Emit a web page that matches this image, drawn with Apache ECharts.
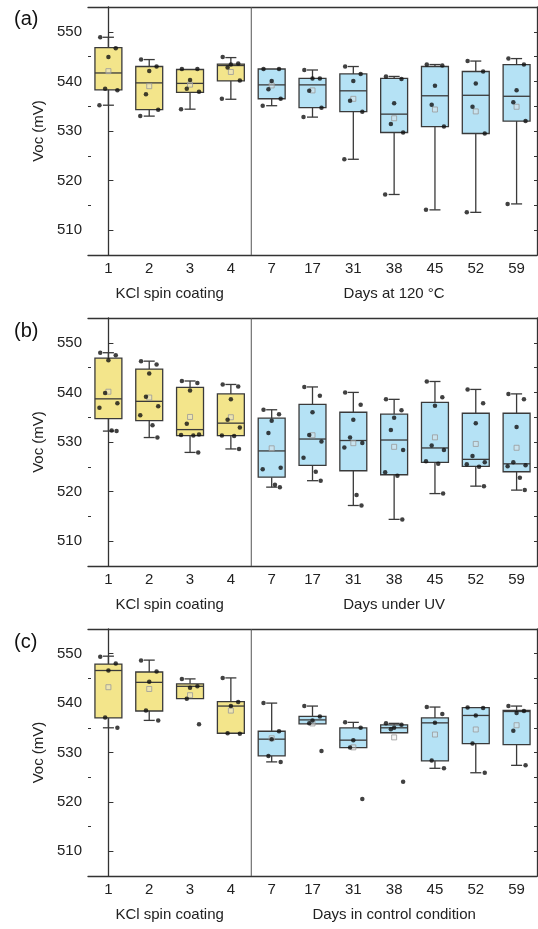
<!DOCTYPE html>
<html><head><meta charset="utf-8">
<script src="https://cdn.jsdelivr.net/npm/echarts@6/dist/echarts.min.js"></script>
<style>html,body{margin:0;padding:0;background:#fff}#c{width:538px;height:929px}</style>
</head><body><div id="c"></div>
<script>
// ---------- data ----------
const kclCats = ['1', '2', '3', '4'];
const dayCats = ['7', '17', '31', '38', '45', '52', '59'];
const categories = kclCats.concat(dayCats);
const yTicks = [510, 520, 530, 540, 550];
const yMinorTicks = [515, 525, 535, 545];
const yMin = 505, yMax = 555;
const panelLabels = ['(a)', '(b)', '(c)'];
const groupTitlesA = ['KCl spin coating', 'Days at 120 \u00B0C'];
const groupTitlesB = ['KCl spin coating', 'Days under UV'];
const groupTitlesC = ['KCl spin coating', 'Days in control condition'];

// box statistics: [lower whisker, Q1, median, Q3, upper whisker]
const boxA = [
  [535.2, 538.3, 541.7, 546.8, 548.9], [533.0, 534.3, 539.7, 543.0, 544.4],
  [534.4, 537.8, 539.6, 542.4, 542.5], [536.4, 540.1, 543.2, 543.5, 544.8],
  [535.1, 536.5, 539.3, 542.5, 542.5], [532.8, 534.7, 539.3, 540.6, 542.3],
  [524.3, 533.9, 538.1, 541.5, 543.0], [517.2, 529.7, 533.4, 540.6, 541.0],
  [514.1, 530.9, 537.1, 543.0, 543.4], [513.6, 529.5, 537.2, 542.0, 544.1],
  [515.3, 532.0, 537.0, 543.4, 544.6]
];
const dotsA = [
  [548.9, 546.7, 544.9, 538.5, 538.2, 535.2], [544.4, 543.0, 542.1, 537.4, 534.3, 533.0],
  [542.5, 542.5, 540.3, 538.5, 537.9, 534.4], [544.9, 543.6, 543.4, 542.8, 540.2, 536.5],
  [542.5, 542.5, 540.1, 538.4, 536.5, 535.1], [542.3, 540.6, 540.6, 538.1, 534.7, 532.8],
  [543.0, 541.5, 540.1, 536.1, 533.9, 524.3], [541.0, 540.5, 535.6, 531.4, 529.7, 517.2],
  [543.4, 543.2, 539.1, 535.3, 530.9, 514.1], [544.1, 542.0, 539.6, 534.9, 529.5, 513.6],
  [544.6, 543.4, 538.2, 535.8, 532.0, 515.3]
];
const boxB = [
  [532.2, 534.7, 538.7, 546.9, 548.0], [530.9, 534.3, 538.2, 544.7, 546.3],
  [527.9, 531.3, 532.5, 541.0, 542.3], [528.6, 531.3, 533.8, 539.7, 541.6],
  [520.9, 522.9, 528.2, 534.8, 536.5], [522.2, 525.3, 530.6, 537.6, 541.1],
  [517.2, 524.2, 530.3, 536.0, 540.0], [514.4, 523.4, 530.4, 535.6, 538.6],
  [519.6, 525.9, 528.8, 538.0, 542.2], [521.1, 525.1, 526.5, 535.8, 540.6],
  [520.3, 524.0, 525.6, 535.8, 539.7]
];
const dotsB = [
  [548.0, 547.5, 546.5, 539.9, 537.8, 536.9, 532.3, 532.2],
  [546.3, 545.6, 543.8, 539.1, 537.2, 535.4, 533.4, 530.9],
  [542.3, 541.9, 540.4, 533.7, 531.5, 531.4, 531.3, 527.9],
  [541.6, 541.2, 538.6, 534.5, 532.9, 531.3, 531.2, 528.6],
  [536.5, 535.6, 534.3, 531.8, 524.8, 524.5, 521.4, 520.9],
  [541.1, 539.3, 536.0, 531.4, 530.1, 526.8, 524.0, 522.2],
  [540.0, 537.5, 534.5, 530.9, 529.8, 528.9, 519.3, 517.2],
  [538.6, 536.4, 534.9, 532.4, 528.4, 523.9, 523.2, 514.4],
  [542.2, 539.0, 537.3, 529.3, 528.4, 526.1, 525.6, 519.6],
  [540.6, 537.8, 533.8, 527.2, 525.9, 525.5, 525.0, 521.1],
  [539.7, 538.6, 533.0, 525.9, 525.3, 525.1, 522.8, 520.3]
];
const boxC = [
  [535.0, 537.0, 546.6, 547.9, 549.5], [536.5, 538.4, 544.2, 546.3, 548.7],
  [540.9, 540.9, 543.4, 543.9, 544.9], [533.9, 533.9, 539.4, 540.3, 545.1],
  [528.1, 529.3, 532.7, 534.3, 540.0], [535.8, 535.8, 536.6, 537.3, 539.4],
  [531.0, 531.0, 532.5, 535.0, 536.1], [534.0, 534.0, 535.0, 535.6, 535.9],
  [526.8, 528.3, 536.0, 537.0, 539.2], [525.9, 531.8, 537.5, 539.1, 539.1],
  [527.4, 531.6, 538.3, 538.5, 539.4]
];
const dotsC = [
  [549.4, 548.0, 546.6, 537.1, 535.0], [548.6, 546.4, 544.3, 538.5, 536.5],
  [544.9, 543.4, 543.1, 540.9, 535.7], [545.1, 540.2, 539.4, 533.9, 533.8],
  [540.0, 534.3, 532.7, 529.3, 528.1], [539.4, 537.3, 536.5, 535.9, 530.3],
  [536.1, 535.0, 532.5, 531.0, 520.6], [535.9, 535.6, 535.0, 534.7, 524.1],
  [539.2, 537.8, 536.0, 528.4, 526.8], [539.1, 539.0, 537.5, 531.8, 525.9],
  [539.4, 538.4, 538.0, 534.4, 527.4]
];

// ---------- style / layout ----------
const FONT = 'Liberation Sans, Arial, sans-serif';
const YELLOW = '#f3e58b';
const BLUE = '#b5e2f5';
const EDGE = '#3a3a3a';
const AXIS = '#333';
const TXT = '#222';
const gridTops = [7, 318, 629];
const gridHeights = [248, 248, 247];
const jitter = [-0.2, 0.18, 0, -0.08, 0.22, -0.22, 0.08, 0.2];

const panels = [
  { box: boxA, dots: dotsA, titles: groupTitlesA },
  { box: boxB, dots: dotsB, titles: groupTitlesB },
  { box: boxC, dots: dotsC, titles: groupTitlesC }
];

function renderBox(params, api) {
  const i = api.value(0);
  const pLow = api.coord([i, api.value(1)]);
  const pQ1 = api.coord([i, api.value(2)]);
  const pMed = api.coord([i, api.value(3)]);
  const pQ3 = api.coord([i, api.value(4)]);
  const pHigh = api.coord([i, api.value(5)]);
  const band = api.size([1, 0])[0];
  const hw = band * 0.33, cw = band * 0.135;
  const x = pMed[0];
  const ls = { stroke: EDGE, lineWidth: 1.3 };
  const ch = [];
  if (pHigh[1] < pQ3[1] - 0.5) {
    ch.push({ type: 'line', shape: { x1: x, y1: pHigh[1], x2: x, y2: pQ3[1] }, style: ls });
    ch.push({ type: 'line', shape: { x1: x - cw, y1: pHigh[1], x2: x + cw, y2: pHigh[1] }, style: ls });
  }
  if (pLow[1] > pQ1[1] + 0.5) {
    ch.push({ type: 'line', shape: { x1: x, y1: pQ1[1], x2: x, y2: pLow[1] }, style: ls });
    ch.push({ type: 'line', shape: { x1: x - cw, y1: pLow[1], x2: x + cw, y2: pLow[1] }, style: ls });
  }
  ch.push({ type: 'rect', shape: { x: x - hw, y: pQ3[1], width: 2 * hw, height: pQ1[1] - pQ3[1] },
            style: { fill: i < kclCats.length ? YELLOW : BLUE, stroke: EDGE, lineWidth: 1.3 } });
  ch.push({ type: 'line', shape: { x1: x - hw, y1: pMed[1], x2: x + hw, y2: pMed[1] }, style: ls });
  return { type: 'group', children: ch };
}

const option = {
  animation: false,
  backgroundColor: '#fff',
  textStyle: { fontFamily: FONT },
  title: panelLabels.map((t, g) => ({
    text: t, left: 14, top: gridTops[g] + (g === 0 ? 2 : 3), padding: 0,
    textStyle: { fontSize: 20, fontWeight: 'normal', color: '#111', fontFamily: FONT }
  })),
  grid: gridTops.map((t, g) => ({ left: 88, width: 449, top: t, height: gridHeights[g] })),
  xAxis: [], yAxis: [], series: []
};

panels.forEach((p, g) => {
  const xb = option.xAxis.length;
  option.xAxis.push({
    type: 'category', gridIndex: g, data: categories, boundaryGap: true, position: 'bottom',
    axisLine: { lineStyle: { color: AXIS, width: 1.3 } },
    axisTick: { inside: true, alignWithLabel: true, length: 4, lineStyle: { color: AXIS } },
    axisLabel: { fontSize: 15, color: TXT, margin: 6, fontFamily: FONT },
    splitLine: { show: false }
  });
  option.xAxis.push({
    type: 'category', gridIndex: g, data: categories, boundaryGap: true, position: 'top',
    axisLine: { lineStyle: { color: AXIS, width: 1.3 } },
    axisTick: { inside: true, alignWithLabel: true, length: 4, lineStyle: { color: AXIS } },
    axisLabel: { show: false }, splitLine: { show: false }
  });
  const kclCenter = (kclCats.length - 1) / 2;
  const dayCenter = kclCats.length + (dayCats.length - 1) / 2;
  option.xAxis.push({
    type: 'value', gridIndex: g, min: -0.5, max: categories.length - 0.5, position: 'bottom',
    axisLine: { show: false }, axisTick: { show: false }, splitLine: { show: false },
    axisLabel: {
      customValues: [kclCenter, dayCenter], margin: 31, fontSize: 15, color: TXT, fontFamily: FONT,
      formatter: v => (v < kclCats.length - 0.5 ? p.titles[0] : p.titles[1])
    }
  });
  const yl = option.yAxis.length;
  option.yAxis.push({
    type: 'value', gridIndex: g, min: yMin, max: yMax, position: 'left',
    name: 'Voc (mV)', nameLocation: 'middle', nameGap: 42,
    nameTextStyle: { fontSize: 15, color: TXT, fontFamily: FONT },
    axisLine: { show: true, lineStyle: { color: AXIS, width: 1.3 } },
    axisTick: { show: true, inside: true, length: 5, customValues: yTicks, lineStyle: { color: AXIS } },
    axisLabel: { customValues: yTicks, fontSize: 15, color: TXT, margin: 6, fontFamily: FONT },
    splitLine: { show: false }
  });
  option.yAxis.push({
    type: 'value', gridIndex: g, min: yMin, max: yMax, position: 'left',
    axisLine: { show: false },
    axisTick: { show: true, inside: true, length: 3, customValues: yMinorTicks, lineStyle: { color: AXIS } },
    axisLabel: { show: false }, splitLine: { show: false }
  });
  option.yAxis.push({
    type: 'value', gridIndex: g, min: yMin, max: yMax, position: 'right',
    axisLine: { show: true, lineStyle: { color: AXIS, width: 1.3 } },
    axisTick: { show: true, inside: true, length: 3, customValues: yTicks.concat(yMinorTicks), lineStyle: { color: AXIS } },
    axisLabel: { show: false }, splitLine: { show: false }
  });

  // separator line between groups
  const sep = kclCats.length - 0.5;
  option.series.push({
    type: 'line', xAxisIndex: xb + 2, yAxisIndex: yl, data: [[sep, yMin], [sep, yMax]],
    symbol: 'none', lineStyle: { color: '#555', width: 1 }, z: 1, silent: true
  });
  // boxes
  option.series.push({
    type: 'custom', xAxisIndex: xb, yAxisIndex: yl, renderItem: renderBox, z: 2,
    encode: { x: 0, y: [1, 2, 3, 4, 5] },
    data: p.box.map((b, i) => [i].concat(b))
  });
  // means
  option.series.push({
    type: 'scatter', xAxisIndex: xb + 2, yAxisIndex: yl, z: 3, symbol: 'rect', symbolSize: 5,
    itemStyle: { color: 'rgba(230,230,230,0.5)', borderColor: '#9a9a9a', borderWidth: 1 },
    data: p.dots.map((d, i) => [i, d.reduce((s, v) => s + v, 0) / d.length])
  });
  // individual points
  const pts = [];
  p.dots.forEach((d, i) => d.forEach((v, k) => pts.push([i + jitter[k % jitter.length], v])));
  option.series.push({
    type: 'scatter', xAxisIndex: xb + 2, yAxisIndex: yl, z: 4, symbol: 'circle', symbolSize: 4.5,
    itemStyle: { color: '#111' }, data: pts
  });
});

const chart = echarts.init(document.getElementById('c'), null, { renderer: 'canvas' });
chart.setOption(option);
</script></body></html>
